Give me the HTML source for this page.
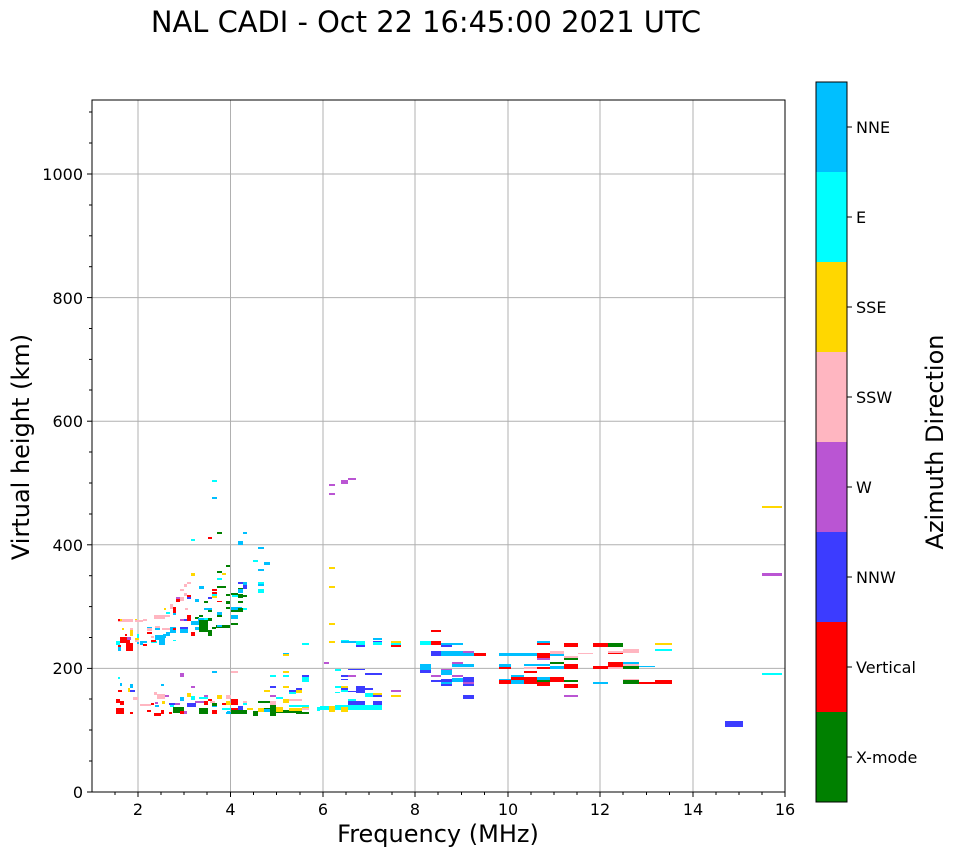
<!DOCTYPE html>
<html><head><meta charset="utf-8"><style>
body{margin:0;background:#fff;}
svg text{font-family:"DejaVu Sans","Liberation Sans",sans-serif;}
.g{fill:#008000}.r{fill:#ff0000}.b{fill:#3c3cff}.p{fill:#ba55d3}.k{fill:#ffb6c1}.y{fill:#ffd700}.c{fill:#00ffff}.d{fill:#00bfff}
</style></head><body>
<svg width="958" height="857" xmlns="http://www.w3.org/2000/svg">
<rect width="958" height="857" fill="#fff"/>
<text x="426" y="32" font-size="28.9" text-anchor="middle">NAL CADI - Oct 22 16:45:00 2021 UTC</text>
<g stroke="#b0b0b0" stroke-width="1">
<line x1="138" y1="100" x2="138" y2="792"/><line x1="230.5" y1="100" x2="230.5" y2="792"/><line x1="323" y1="100" x2="323" y2="792"/><line x1="415" y1="100" x2="415" y2="792"/><line x1="508" y1="100" x2="508" y2="792"/><line x1="600" y1="100" x2="600" y2="792"/><line x1="693" y1="100" x2="693" y2="792"/>
<line x1="92" y1="668.4" x2="785" y2="668.4"/><line x1="92" y1="544.8" x2="785" y2="544.8"/><line x1="92" y1="421.2" x2="785" y2="421.2"/><line x1="92" y1="297.6" x2="785" y2="297.6"/><line x1="92" y1="174" x2="785" y2="174"/>
</g>
<g>
<rect class="c" x="212" y="480" width="5" height="2"/><rect class="d" x="212" y="497" width="5" height="2"/>
<rect class="g" x="217" y="532" width="5" height="2"/><rect class="r" x="208" y="537" width="4" height="2"/><rect class="c" x="191" y="539" width="4" height="2"/>
<rect class="d" x="243" y="532" width="4" height="2"/><rect class="d" x="238" y="541" width="5" height="4"/>
<rect class="d" x="258" y="547" width="6" height="2"/><rect class="c" x="253" y="560" width="5" height="2"/><rect class="d" x="264" y="562" width="6" height="3"/><rect class="d" x="258" y="569" width="6" height="2"/>
<rect class="g" x="226" y="565" width="4" height="2"/><rect class="y" x="191" y="573" width="4" height="3"/><rect class="g" x="217" y="571" width="5" height="2"/><rect class="y" x="222" y="573" width="4" height="2"/><rect class="c" x="217" y="578" width="5" height="2"/>
<rect class="d" x="199" y="586" width="5" height="3"/><rect class="k" x="187" y="582" width="4" height="2"/><rect class="k" x="180" y="589" width="4" height="2"/><rect class="k" x="184" y="584" width="3" height="3"/>
<rect class="g" x="217" y="586" width="9" height="2"/><rect class="r" x="212" y="589" width="5" height="2"/><rect class="b" x="238" y="582" width="5" height="2"/><rect class="d" x="243" y="582" width="4" height="3"/>
<rect class="c" x="258" y="582" width="6" height="3"/><rect class="d" x="258" y="584" width="6" height="2"/><rect class="b" x="243" y="585" width="4" height="4"/><rect class="c" x="258" y="589" width="6" height="4"/>
<rect class="g" x="226" y="594" width="4" height="2"/><rect class="c" x="232" y="594" width="6" height="3"/><rect class="g" x="231" y="593" width="7" height="2"/><rect class="g" x="238" y="588" width="5" height="2"/><rect class="g" x="238" y="594" width="5" height="4"/>
<rect class="d" x="238" y="589" width="5" height="4"/><rect class="g" x="243" y="595" width="4" height="2"/>
<rect class="r" x="212" y="592" width="5" height="2"/><rect class="c" x="212" y="594" width="5" height="2"/><rect class="y" x="212" y="596" width="5" height="2"/>
<rect class="k" x="184" y="593" width="3" height="3"/><rect class="p" x="176" y="597" width="4" height="2"/><rect class="r" x="176" y="599" width="4" height="3"/><rect class="k" x="180" y="597" width="4" height="4"/>
<rect class="r" x="187" y="595" width="4" height="2"/><rect class="b" x="187" y="597" width="4" height="2"/><rect class="d" x="195" y="599" width="4" height="3"/><rect class="g" x="204" y="601" width="4" height="2"/><rect class="b" x="208" y="597" width="4" height="2"/>
<rect class="r" x="217" y="601" width="5" height="1"/><rect class="g" x="226" y="601" width="4" height="3"/><rect class="g" x="238" y="601" width="5" height="2"/><rect class="g" x="226" y="607" width="4" height="2"/>
<rect class="d" x="231" y="607" width="11" height="3"/><rect class="g" x="231" y="610" width="7" height="2"/><rect class="g" x="238" y="608" width="5" height="4"/><rect class="c" x="243" y="608" width="4" height="2"/>
<rect class="d" x="204" y="608" width="8" height="2"/><rect class="g" x="208" y="610" width="4" height="2"/><rect class="d" x="217" y="612" width="5" height="3"/><rect class="g" x="217" y="615" width="5" height="2"/>
<rect class="g" x="199" y="615" width="4" height="2"/><rect class="g" x="195" y="617" width="4" height="2"/><rect class="d" x="231" y="615" width="7" height="4"/>
<rect class="k" x="170" y="604" width="3" height="5"/><rect class="r" x="173" y="607" width="3" height="7"/><rect class="k" x="185" y="608" width="3" height="2"/><rect class="r" x="187" y="615" width="4" height="2"/>
<rect class="g" x="231" y="623" width="7" height="2"/><rect class="k" x="154" y="615" width="11" height="4"/><rect class="y" x="164" y="608" width="2" height="2"/><rect class="k" x="165" y="615" width="5" height="2"/><rect class="c" x="166" y="612" width="4" height="2"/><rect class="d" x="173" y="613" width="3" height="2"/>
<rect class="p" x="180" y="619" width="4" height="2"/><rect class="b" x="184" y="619" width="3" height="2"/><rect class="r" x="187" y="617" width="4" height="4"/><rect class="d" x="191" y="621" width="8" height="4"/>
<rect class="d" x="198" y="618" width="6" height="7"/><rect class="g" x="199" y="620" width="9" height="5"/><rect class="g" x="208" y="618" width="4" height="3"/><rect class="c" x="204" y="618" width="4" height="2"/>
<rect class="g" x="199" y="624" width="9" height="8"/><rect class="g" x="208" y="630" width="4" height="6"/><rect class="g" x="212" y="627" width="4" height="2"/><rect class="g" x="216" y="625" width="6" height="3"/><rect class="d" x="217" y="625" width="5" height="2"/><rect class="g" x="222" y="625" width="8" height="3"/>
<rect class="d" x="195" y="627" width="4" height="3"/><rect class="r" x="191" y="632" width="4" height="4"/><rect class="b" x="180" y="627" width="8" height="4"/><rect class="d" x="180" y="629" width="8" height="4"/>
<rect class="d" x="170" y="627" width="6" height="6"/><rect class="d" x="166" y="632" width="4" height="4"/><rect class="d" x="163" y="634" width="3" height="4"/>
<rect class="k" x="162" y="628" width="8" height="2"/><rect class="r" x="173" y="628" width="3" height="2"/><rect class="k" x="155" y="626" width="5" height="2"/><rect class="d" x="155" y="628" width="5" height="2"/>
<rect class="d" x="147" y="627" width="5" height="3"/><rect class="k" x="147" y="628" width="5" height="3"/><rect class="r" x="147" y="632" width="5" height="2"/><rect class="k" x="151" y="636" width="3" height="2"/>
<rect class="d" x="155" y="635" width="10" height="5"/><rect class="c" x="151" y="641" width="6" height="2"/><rect class="r" x="151" y="640" width="5" height="2"/>
<rect class="d" x="140" y="641" width="3" height="4"/><rect class="r" x="143" y="644" width="4" height="2"/><rect class="d" x="140" y="641" width="7" height="2"/><rect class="c" x="173" y="640" width="3" height="1"/><rect class="d" x="159" y="640" width="6" height="5"/>
<rect class="k" x="143" y="619" width="4" height="2"/><rect class="y" x="135" y="619" width="2" height="2"/><rect class="k" x="135" y="620" width="8" height="2"/>
<rect class="k" x="118" y="619" width="15" height="3"/><rect class="r" x="118" y="619" width="4" height="2"/><rect class="y" x="120" y="619" width="2" height="2"/>
<rect class="y" x="122" y="628" width="2" height="2"/><rect class="k" x="130" y="628" width="3" height="2"/><rect class="y" x="130" y="630" width="3" height="6"/>
<rect class="r" x="120" y="637" width="10" height="6"/><rect class="r" x="126" y="643" width="7" height="8"/><rect class="r" x="118" y="645" width="3" height="5"/><rect class="c" x="116" y="641" width="4" height="4"/><rect class="d" x="118" y="647" width="3" height="4"/>
<rect class="p" x="127" y="637" width="4" height="3"/><rect class="r" x="125" y="634" width="2" height="2"/><rect class="y" x="135" y="638" width="4" height="2"/><rect class="k" x="135" y="640" width="3" height="2"/><rect class="c" x="137" y="634" width="2" height="4"/><rect class="d" x="137" y="642" width="2" height="2"/>
<rect class="d" x="283" y="653" width="6" height="1"/><rect class="y" x="283" y="654" width="6" height="2"/><rect class="c" x="302" y="643" width="7" height="2"/>
<rect class="c" x="118" y="677" width="2" height="2"/><rect class="d" x="120" y="683" width="2" height="3"/><rect class="d" x="130" y="684" width="3" height="4"/><rect class="d" x="161" y="684" width="3" height="2"/>
<rect class="d" x="212" y="671" width="5" height="2"/><rect class="k" x="231" y="671" width="7" height="2"/><rect class="p" x="180" y="673" width="4" height="4"/><rect class="p" x="191" y="686" width="4" height="2"/>
<rect class="c" x="270" y="675" width="6" height="2"/><rect class="y" x="283" y="671" width="6" height="2"/><rect class="c" x="283" y="675" width="6" height="2"/><rect class="b" x="302" y="675" width="7" height="2"/><rect class="c" x="302" y="677" width="7" height="5"/>
<rect class="b" x="270" y="686" width="6" height="2"/><rect class="y" x="283" y="686" width="6" height="2"/><rect class="y" x="264" y="690" width="6" height="2"/><rect class="p" x="270" y="695" width="6" height="2"/><rect class="b" x="289" y="690" width="7" height="2"/><rect class="y" x="296" y="690" width="6" height="3"/><rect class="b" x="296" y="688" width="6" height="2"/>
<rect class="c" x="276" y="697" width="7" height="2"/><rect class="y" x="283" y="699" width="6" height="4"/><rect class="k" x="289" y="699" width="13" height="2"/><rect class="c" x="289" y="692" width="7" height="2"/>
<rect class="r" x="118" y="690" width="4" height="2"/><rect class="y" x="128" y="688" width="2" height="4"/><rect class="b" x="130" y="690" width="5" height="2"/><rect class="k" x="133" y="697" width="5" height="3"/><rect class="r" x="116" y="699" width="4" height="4"/><rect class="r" x="120" y="701" width="4" height="4"/>
<rect class="k" x="154" y="692" width="3" height="3"/><rect class="k" x="157" y="694" width="8" height="5"/><rect class="p" x="165" y="695" width="4" height="2"/><rect class="d" x="180" y="697" width="4" height="4"/><rect class="y" x="187" y="693" width="4" height="4"/>
<rect class="c" x="191" y="696" width="4" height="4"/><rect class="c" x="199" y="697" width="9" height="2"/><rect class="p" x="204" y="695" width="4" height="2"/><rect class="y" x="217" y="695" width="5" height="4"/><rect class="k" x="226" y="695" width="4" height="4"/>
<rect class="y" x="226" y="701" width="4" height="4"/><rect class="r" x="231" y="699" width="7" height="4"/><rect class="c" x="243" y="703" width="4" height="2"/><rect class="b" x="238" y="706" width="5" height="2"/>
<rect class="r" x="208" y="699" width="4" height="2"/><rect class="r" x="204" y="701" width="4" height="4"/><rect class="p" x="195" y="701" width="9" height="2"/><rect class="k" x="210" y="701" width="5" height="2"/><rect class="d" x="212" y="705" width="5" height="2"/><rect class="g" x="212" y="703" width="5" height="3"/><rect class="r" x="222" y="703" width="4" height="2"/>
<rect class="g" x="258" y="701" width="12" height="2"/><rect class="k" x="270" y="701" width="6" height="4"/><rect class="y" x="247" y="708" width="6" height="2"/><rect class="y" x="258" y="708" width="6" height="4"/><rect class="g" x="264" y="708" width="6" height="2"/>
<rect class="r" x="154" y="713" width="7" height="3"/><rect class="r" x="161" y="710" width="3" height="4"/><rect class="r" x="169" y="712" width="3" height="2"/><rect class="g" x="173" y="707" width="11" height="6"/><rect class="r" x="180" y="711" width="4" height="3"/><rect class="p" x="184" y="711" width="3" height="3"/><rect class="b" x="187" y="703" width="9" height="4"/>
<rect class="g" x="199" y="708" width="9" height="6"/><rect class="r" x="212" y="710" width="5" height="4"/><rect class="d" x="227" y="711" width="3" height="3"/><rect class="g" x="231" y="710" width="16" height="4"/><rect class="g" x="253" y="711" width="5" height="5"/>
<rect class="g" x="270" y="711" width="6" height="5"/><rect class="g" x="276" y="710" width="13" height="3"/><rect class="g" x="289" y="711" width="13" height="2"/><rect class="y" x="302" y="706" width="7" height="3"/><rect class="c" x="317" y="707" width="3" height="4"/>
<rect class="r" x="116" y="708" width="8" height="6"/><rect class="r" x="130" y="712" width="3" height="2"/><rect class="r" x="147" y="710" width="4" height="2"/><rect class="k" x="140" y="704" width="11" height="2"/><rect class="r" x="151" y="703" width="3" height="2"/><rect class="p" x="155" y="702" width="3" height="2"/>
<rect class="b" x="169" y="703" width="7" height="2"/><rect class="p" x="175" y="703" width="5" height="2"/><rect class="y" x="162" y="701" width="3" height="3"/><rect class="d" x="155" y="705" width="4" height="2"/><rect class="c" x="170" y="705" width="4" height="2"/>
<rect class="r" x="231" y="699" width="7" height="2"/><rect class="r" x="231" y="703" width="7" height="2"/><rect class="r" x="231" y="708" width="7" height="2"/><rect class="c" x="222" y="708" width="9" height="2"/><rect class="d" x="226" y="712" width="5" height="2"/>
<rect class="k" x="226" y="695" width="5" height="3"/><rect class="y" x="226" y="703" width="5" height="2"/><rect class="k" x="243" y="701" width="4" height="2"/><rect class="b" x="238" y="708" width="5" height="2"/>
<rect class="y" x="258" y="708" width="6" height="4"/><rect class="y" x="289" y="708" width="7" height="3"/><rect class="c" x="289" y="705" width="20" height="2"/><rect class="y" x="296" y="708" width="6" height="3"/><rect class="k" x="302" y="708" width="7" height="2"/><rect class="g" x="296" y="712" width="13" height="2"/>
<rect class="g" x="270" y="705" width="6" height="11"/><rect class="y" x="276" y="707" width="7" height="5"/><rect class="d" x="264" y="709" width="6" height="3"/>
<rect class="p" x="329" y="484" width="6" height="2"/><rect class="p" x="341" y="480" width="7" height="4"/><rect class="p" x="348" y="478" width="8" height="2"/><rect class="p" x="329" y="493" width="6" height="2"/>
<rect class="y" x="329" y="567" width="6" height="2"/><rect class="y" x="329" y="586" width="6" height="2"/><rect class="y" x="329" y="623" width="6" height="2"/>
<rect class="y" x="329" y="641" width="6" height="2"/><rect class="c" x="341" y="640" width="8" height="2"/><rect class="d" x="341" y="641" width="15" height="2"/><rect class="c" x="356" y="641" width="9" height="4"/><rect class="b" x="356" y="645" width="9" height="2"/>
<rect class="d" x="373" y="638" width="9" height="2"/><rect class="c" x="373" y="642" width="9" height="3"/><rect class="b" x="373" y="641" width="9" height="1"/>
<rect class="y" x="391" y="641" width="10" height="2"/><rect class="c" x="391" y="643" width="10" height="2"/><rect class="r" x="391" y="645" width="10" height="2"/>
<rect class="p" x="324" y="662" width="5" height="2"/><rect class="c" x="335" y="669" width="6" height="2"/><rect class="b" x="348" y="669" width="17" height="1"/><rect class="b" x="365" y="673" width="17" height="2"/>
<rect class="b" x="341" y="675" width="7" height="2"/><rect class="b" x="341" y="679" width="7" height="1"/><rect class="p" x="348" y="675" width="8" height="2"/>
<rect class="c" x="335" y="686" width="6" height="2"/><rect class="y" x="341" y="686" width="7" height="2"/><rect class="b" x="341" y="688" width="7" height="2"/><rect class="c" x="341" y="690" width="7" height="2"/>
<rect class="b" x="356" y="686" width="9" height="7"/><rect class="b" x="348" y="691" width="8" height="1"/><rect class="b" x="365" y="688" width="8" height="2"/><rect class="c" x="335" y="692" width="5" height="1"/>
<rect class="p" x="391" y="690" width="10" height="2"/><rect class="y" x="391" y="695" width="10" height="2"/><rect class="y" x="373" y="693" width="9" height="2"/><rect class="b" x="373" y="695" width="9" height="2"/><rect class="c" x="365" y="693" width="8" height="4"/>
<rect class="c" x="348" y="699" width="8" height="4"/><rect class="b" x="348" y="701" width="8" height="5"/><rect class="b" x="356" y="701" width="9" height="5"/><rect class="b" x="373" y="701" width="9" height="4"/><rect class="k" x="365" y="705" width="8" height="1"/>
<rect class="c" x="335" y="705" width="47" height="5"/><rect class="y" x="329" y="706" width="6" height="6"/><rect class="y" x="341" y="707" width="7" height="5"/><rect class="c" x="320" y="706" width="9" height="4"/>
<rect class="r" x="431" y="630" width="10" height="2"/><rect class="c" x="420" y="641" width="11" height="4"/><rect class="r" x="431" y="641" width="10" height="4"/><rect class="d" x="441" y="643" width="22" height="2"/><rect class="b" x="441" y="645" width="11" height="2"/>
<rect class="b" x="431" y="651" width="10" height="5"/><rect class="d" x="441" y="651" width="22" height="5"/><rect class="p" x="463" y="651" width="11" height="2"/><rect class="d" x="463" y="653" width="11" height="3"/><rect class="r" x="474" y="653" width="12" height="3"/>
<rect class="d" x="499" y="653" width="38" height="3"/><rect class="k" x="550" y="651" width="14" height="3"/><rect class="d" x="550" y="654" width="14" height="2"/>
<rect class="r" x="537" y="653" width="13" height="5"/><rect class="p" x="537" y="658" width="13" height="2"/><rect class="d" x="537" y="641" width="13" height="2"/><rect class="r" x="537" y="643" width="13" height="2"/>
<rect class="r" x="564" y="643" width="14" height="4"/><rect class="k" x="578" y="653" width="15" height="1"/><rect class="r" x="593" y="643" width="15" height="4"/><rect class="g" x="608" y="643" width="15" height="4"/>
<rect class="k" x="564" y="656" width="14" height="2"/><rect class="g" x="564" y="658" width="14" height="2"/><rect class="k" x="608" y="651" width="15" height="2"/><rect class="r" x="608" y="653" width="15" height="1"/>
<rect class="k" x="623" y="649" width="16" height="4"/><rect class="y" x="655" y="643" width="17" height="2"/><rect class="c" x="655" y="649" width="17" height="2"/>
<rect class="d" x="420" y="664" width="11" height="6"/><rect class="b" x="420" y="670" width="11" height="3"/><rect class="p" x="452" y="662" width="11" height="2"/><rect class="d" x="452" y="664" width="22" height="3"/>
<rect class="d" x="441" y="670" width="11" height="5"/><rect class="p" x="441" y="669" width="11" height="1"/><rect class="b" x="441" y="679" width="11" height="7"/><rect class="d" x="441" y="682" width="11" height="2"/>
<rect class="p" x="431" y="675" width="10" height="2"/><rect class="b" x="431" y="680" width="10" height="2"/><rect class="p" x="452" y="675" width="11" height="2"/><rect class="d" x="452" y="678" width="11" height="4"/>
<rect class="b" x="463" y="677" width="11" height="9"/><rect class="p" x="463" y="682" width="11" height="2"/><rect class="b" x="463" y="695" width="11" height="4"/>
<rect class="d" x="499" y="664" width="12" height="3"/><rect class="r" x="499" y="667" width="12" height="2"/><rect class="r" x="499" y="680" width="12" height="4"/><rect class="d" x="499" y="679" width="12" height="1"/>
<rect class="d" x="511" y="675" width="13" height="2"/><rect class="r" x="511" y="677" width="13" height="3"/><rect class="d" x="511" y="680" width="13" height="4"/>
<rect class="r" x="524" y="677" width="13" height="7"/><rect class="k" x="524" y="667" width="13" height="2"/><rect class="r" x="524" y="671" width="13" height="2"/><rect class="d" x="524" y="664" width="26" height="2"/><rect class="r" x="537" y="667" width="13" height="2"/>
<rect class="d" x="537" y="677" width="13" height="3"/><rect class="g" x="537" y="680" width="13" height="2"/><rect class="r" x="537" y="682" width="13" height="4"/>
<rect class="g" x="550" y="662" width="14" height="2"/><rect class="d" x="550" y="666" width="14" height="3"/><rect class="r" x="550" y="677" width="14" height="5"/>
<rect class="r" x="564" y="664" width="14" height="5"/><rect class="g" x="564" y="680" width="14" height="2"/><rect class="r" x="564" y="684" width="14" height="4"/><rect class="p" x="564" y="695" width="14" height="2"/>
<rect class="r" x="593" y="666" width="15" height="3"/><rect class="d" x="593" y="682" width="15" height="2"/><rect class="r" x="608" y="662" width="15" height="5"/><rect class="k" x="608" y="667" width="15" height="2"/>
<rect class="d" x="623" y="662" width="16" height="2"/><rect class="k" x="623" y="664" width="16" height="2"/><rect class="g" x="623" y="666" width="16" height="3"/><rect class="d" x="639" y="666" width="16" height="1"/>
<rect class="k" x="623" y="679" width="16" height="1"/><rect class="g" x="623" y="680" width="16" height="4"/><rect class="r" x="639" y="682" width="16" height="2"/><rect class="r" x="655" y="680" width="17" height="4"/>
<rect class="y" x="762" y="506" width="20" height="2"/><rect class="p" x="762" y="573" width="20" height="3"/><rect class="c" x="762" y="673" width="20" height="2"/><rect class="b" x="725" y="721" width="18" height="6"/>
</g>
<rect x="92" y="100" width="693" height="692" fill="none" stroke="#000" stroke-width="1"/>
<g stroke="#000" stroke-width="1">
<line x1="138" y1="792" x2="138" y2="797"/><line x1="230.5" y1="792" x2="230.5" y2="797"/><line x1="323" y1="792" x2="323" y2="797"/><line x1="415" y1="792" x2="415" y2="797"/><line x1="508" y1="792" x2="508" y2="797"/><line x1="600" y1="792" x2="600" y2="797"/><line x1="693" y1="792" x2="693" y2="797"/><line x1="785" y1="792" x2="785" y2="797"/>
<line x1="115" y1="792" x2="115" y2="795"/><line x1="161" y1="792" x2="161" y2="795"/><line x1="184" y1="792" x2="184" y2="795"/><line x1="207" y1="792" x2="207" y2="795"/><line x1="253.5" y1="792" x2="253.5" y2="795"/><line x1="276.5" y1="792" x2="276.5" y2="795"/><line x1="300" y1="792" x2="300" y2="795"/><line x1="346" y1="792" x2="346" y2="795"/><line x1="369" y1="792" x2="369" y2="795"/><line x1="392" y1="792" x2="392" y2="795"/><line x1="438" y1="792" x2="438" y2="795"/><line x1="461.5" y1="792" x2="461.5" y2="795"/><line x1="484.5" y1="792" x2="484.5" y2="795"/><line x1="531" y1="792" x2="531" y2="795"/><line x1="554" y1="792" x2="554" y2="795"/><line x1="577" y1="792" x2="577" y2="795"/><line x1="623" y1="792" x2="623" y2="795"/><line x1="646.5" y1="792" x2="646.5" y2="795"/><line x1="669.5" y1="792" x2="669.5" y2="795"/><line x1="716" y1="792" x2="716" y2="795"/><line x1="739" y1="792" x2="739" y2="795"/><line x1="762" y1="792" x2="762" y2="795"/>
<line x1="87" y1="792" x2="92" y2="792"/><line x1="87" y1="668.4" x2="92" y2="668.4"/><line x1="87" y1="544.8" x2="92" y2="544.8"/><line x1="87" y1="421.2" x2="92" y2="421.2"/><line x1="87" y1="297.6" x2="92" y2="297.6"/><line x1="87" y1="174" x2="92" y2="174"/>
<line x1="89" y1="761" x2="92" y2="761"/><line x1="89" y1="730" x2="92" y2="730"/><line x1="89" y1="699" x2="92" y2="699"/><line x1="89" y1="637.5" x2="92" y2="637.5"/><line x1="89" y1="606.6" x2="92" y2="606.6"/><line x1="89" y1="575.7" x2="92" y2="575.7"/><line x1="89" y1="514" x2="92" y2="514"/><line x1="89" y1="483" x2="92" y2="483"/><line x1="89" y1="452" x2="92" y2="452"/><line x1="89" y1="390" x2="92" y2="390"/><line x1="89" y1="359.4" x2="92" y2="359.4"/><line x1="89" y1="328.5" x2="92" y2="328.5"/><line x1="89" y1="266.7" x2="92" y2="266.7"/><line x1="89" y1="235.8" x2="92" y2="235.8"/><line x1="89" y1="205" x2="92" y2="205"/><line x1="89" y1="143" x2="92" y2="143"/><line x1="89" y1="112" x2="92" y2="112"/>
</g>
<g font-size="16" text-anchor="middle">
<text x="138" y="815">2</text><text x="230.5" y="815">4</text><text x="323" y="815">6</text><text x="415" y="815">8</text><text x="508" y="815">10</text><text x="600" y="815">12</text><text x="693" y="815">14</text><text x="785" y="815">16</text>
</g>
<g font-size="16" text-anchor="end">
<text x="83" y="798">0</text><text x="83" y="674">200</text><text x="83" y="551">400</text><text x="83" y="427">600</text><text x="83" y="304">800</text><text x="83" y="180">1000</text>
</g>
<text x="438" y="842" font-size="24" text-anchor="middle">Frequency (MHz)</text>
<text transform="translate(29,447) rotate(-90)" font-size="24" text-anchor="middle">Virtual height (km)</text>
<rect x="816" y="82" width="31" height="90" fill="#00bfff"/>
<rect x="816" y="172" width="31" height="90" fill="#00ffff"/>
<rect x="816" y="262" width="31" height="90" fill="#ffd700"/>
<rect x="816" y="352" width="31" height="90" fill="#ffb6c1"/>
<rect x="816" y="442" width="31" height="90" fill="#ba55d3"/>
<rect x="816" y="532" width="31" height="90" fill="#3c3cff"/>
<rect x="816" y="622" width="31" height="90" fill="#ff0000"/>
<rect x="816" y="712" width="31" height="90" fill="#008000"/>
<rect x="816" y="82" width="31" height="720" fill="none" stroke="#000" stroke-width="1"/>
<g stroke="#000"><line x1="847" y1="127" x2="852" y2="127"/><line x1="847" y1="217" x2="852" y2="217"/><line x1="847" y1="307" x2="852" y2="307"/><line x1="847" y1="397" x2="852" y2="397"/><line x1="847" y1="487" x2="852" y2="487"/><line x1="847" y1="577" x2="852" y2="577"/><line x1="847" y1="667" x2="852" y2="667"/><line x1="847" y1="757" x2="852" y2="757"/></g>
<g font-size="16"><text x="856" y="133">NNE</text><text x="856" y="223">E</text><text x="856" y="313">SSE</text><text x="856" y="403">SSW</text><text x="856" y="493">W</text><text x="856" y="583">NNW</text><text x="856" y="673">Vertical</text><text x="856" y="763">X-mode</text></g>
<text transform="translate(943,442) rotate(-90)" font-size="24" text-anchor="middle">Azimuth Direction</text>
</svg>
</body></html>
